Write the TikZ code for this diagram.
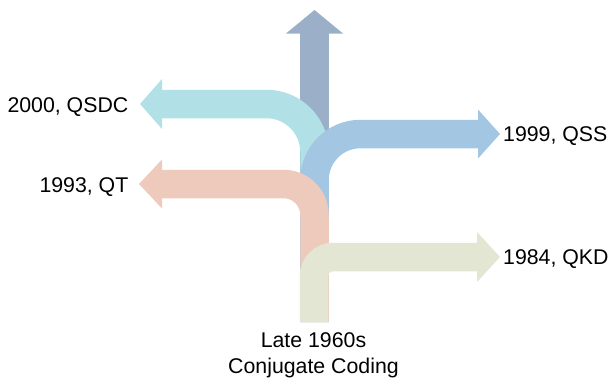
\documentclass[tikz,border=0pt]{standalone}
\usepackage{fontspec}
\setmainfont{Liberation Sans}
\definecolor{cUp}{HTML}{9BB0C8}
\definecolor{cCyan}{HTML}{B1E1E7}
\definecolor{cBlue}{HTML}{A3C6E3}
\definecolor{cPink}{HTML}{EECABD}
\definecolor{cGreen}{HTML}{E2E6D3}
\begin{document}
\begin{tikzpicture}[x=1pt,y=-1pt,
  shaft/.style={line width=28.5pt, line cap=butt, line join=miter},
  lbl/.style={inner sep=0pt, font=\fontsize{21.3}{25}\selectfont}]
\useasboundingbox (0,0) rectangle (611,378);
% up arrow
\draw[shaft, cUp] (314.5,322) -- (314.5,33);
\fill[cUp] (286,33.5) -- (314.5,10) -- (343,33.5) -- cycle;
% cyan (QSDC)
\draw[shaft, cCyan, rounded corners=48pt] (314.5,322) -- (314.5,104) -- (161.5,104);
\fill[cCyan] (162,79) -- (140,104) -- (162,129) -- cycle;
% blue (QSS)
\draw[shaft, cBlue, rounded corners=46pt] (314.5,322) -- (314.5,134) -- (478.5,134);
\fill[cBlue] (478,109.5) -- (500,134) -- (478,158.5) -- cycle;
% pink (QT)
\draw[shaft, cPink, rounded corners=31pt] (314.5,322) -- (314.5,184) -- (161.5,184);
\fill[cPink] (162,159.5) -- (139,184) -- (162,208.5) -- cycle;
% green (QKD)
\draw[shaft, cGreen, rounded corners=19pt] (314,322) -- (314,257) -- (477.5,257);
\fill[cGreen] (477,232) -- (500,257) -- (477,282) -- cycle;
% labels
\node[lbl, anchor=base east] (tQSDC) at (128.5,112) {2000, QSDC};
\node[lbl, anchor=base east] (tQT) at (128.5,192) {1993, QT};
\node[lbl, anchor=base west] (tQSS) at (503,141) {1999, QSS};
\node[lbl, anchor=base west] (tQKD) at (503,264) {1984, QKD};
\node[lbl, anchor=base] (t1) at (313.5,347) {Late 1960s};
\node[lbl, anchor=base] (t2) at (313.5,373) {Conjugate Coding};
\end{tikzpicture}
\end{document}
